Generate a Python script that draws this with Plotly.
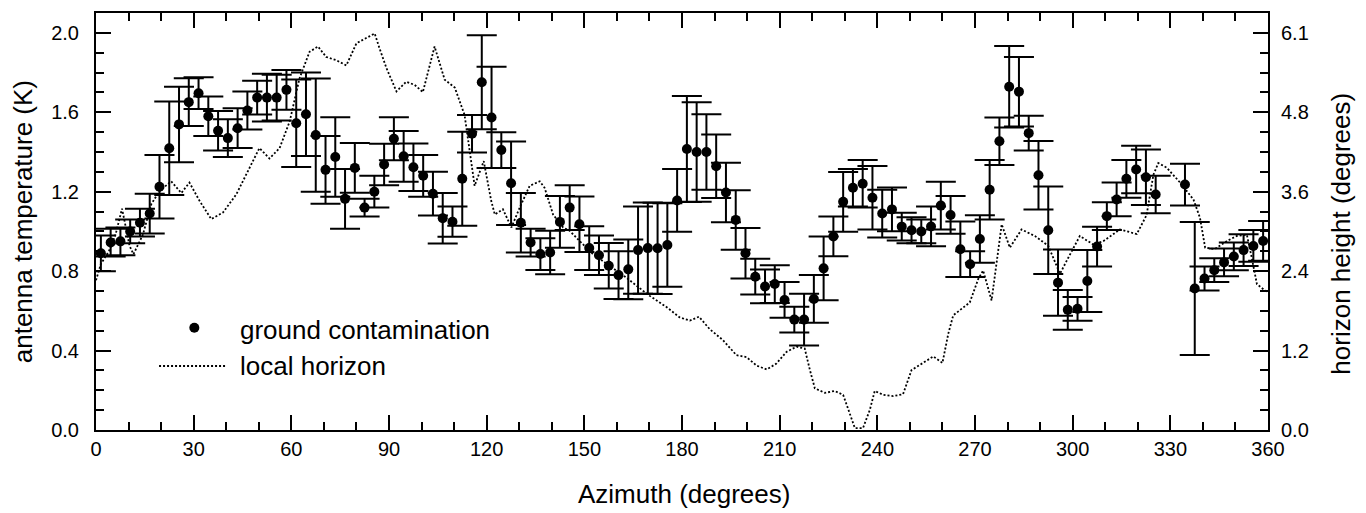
import plotly.graph_objects as go

# ---------------- data ----------------
azimuth = [1.5, 4.5, 7.5, 10.5, 13.5, 16.5, 19.5, 22.5, 25.5, 28.5,
           31.5, 34.5, 37.5, 40.5, 43.5, 46.5, 49.5, 52.5, 55.5, 58.5,
           61.5, 64.5, 67.5, 70.5, 73.5, 76.5, 79.5, 82.5, 85.5, 88.5,
           91.5, 94.5, 97.5, 100.5, 103.5, 106.5, 109.5, 112.5, 115.5, 118.5,
           121.5, 124.5, 127.5, 130.5, 133.5, 136.5, 139.5, 142.5, 145.5, 148.5,
           151.5, 154.5, 157.5, 160.5, 163.5, 166.5, 169.5, 172.5, 175.5, 178.5,
           181.5, 184.5, 187.5, 190.5, 193.5, 196.5, 199.5, 202.5, 205.5, 208.5,
           211.5, 214.5, 217.5, 220.5, 223.5, 226.5, 229.5, 232.5, 235.5, 238.5,
           241.5, 244.5, 247.5, 250.5, 253.5, 256.5, 259.5, 262.5, 265.5, 268.5,
           271.5, 274.5, 277.5, 280.5, 283.5, 286.5, 289.5, 292.5, 295.5, 298.5,
           301.5, 304.5, 307.5, 310.5, 313.5, 316.5, 319.5, 322.5, 325.5, 328.5,
           331.5, 334.5, 337.5, 340.5, 343.5, 346.5, 349.5, 352.5, 355.5, 358.5]

antenna_temp = [0.89, 0.944, 0.95, 1.00, 1.044, 1.09, 1.225, 1.419, 1.539, 1.651,
                1.696, 1.58, 1.507, 1.47, 1.52, 1.609, 1.674, 1.674, 1.674, 1.713,
                1.545, 1.59, 1.485, 1.31, 1.375, 1.164, 1.32, 1.12, 1.20, 1.337,
                1.467, 1.378, 1.323, 1.28, 1.19, 1.066, 1.049, 1.265, 1.492, 1.751,
                1.574, 1.41, 1.243, 1.044, 0.944, 0.886, 0.894, 1.048, 1.12, 1.036,
                0.916, 0.88, 0.827, 0.78, 0.809, 0.906, 0.916, 0.915, 0.932, 1.156,
                1.415, 1.40, 1.40, 1.328, 1.196, 1.058, 0.89, 0.772, 0.723, 0.735,
                0.655, 0.556, 0.556, 0.66, 0.814, 0.975, 1.149, 1.22, 1.24, 1.17,
                1.09, 1.111, 1.024, 1.006, 1.0, 1.025, 1.13, 1.083, 0.91, 0.835,
                0.962, 1.21, 1.454, 1.729, 1.704, 1.495, 1.283, 1.006, 0.742, 0.605,
                0.61, 0.75, 0.924, 1.077, 1.161, 1.265, 1.312, 1.273, 1.186, None,
                None, 1.236, 0.713, 0.763, 0.805, 0.844, 0.874, 0.906, 0.927, 0.952]

antenna_err = [0.09, 0.07, 0.07, 0.06, 0.07, 0.10, 0.16, 0.235, 0.19, 0.12,
               0.08, 0.10, 0.10, 0.095, 0.10, 0.096, 0.085, 0.12, 0.115, 0.10,
               0.22, 0.21, 0.285, 0.17, 0.20, 0.15, 0.125, 0.045, 0.08, 0.105,
               0.108, 0.128, 0.12, 0.105, 0.11, 0.127, 0.076, 0.237, 0.094, 0.237,
               0.255, 0.09, 0.21, 0.15, 0.07, 0.08, 0.11, 0.13, 0.113, 0.14,
               0.11, 0.10, 0.115, 0.12, 0.15, 0.22, 0.23, 0.23, 0.21, 0.158,
               0.267, 0.25, 0.19, 0.16, 0.15, 0.15, 0.127, 0.09, 0.085, 0.095,
               0.09, 0.065, 0.13, 0.12, 0.16, 0.10, 0.15, 0.095, 0.12, 0.16,
               0.12, 0.11, 0.07, 0.065, 0.06, 0.10, 0.12, 0.095, 0.14, 0.065,
               0.12, 0.15, 0.12, 0.205, 0.175, 0.088, 0.173, 0.22, 0.167, 0.10,
               0.06, 0.156, 0.10, 0.07, 0.085, 0.095, 0.12, 0.14, 0.095, None,
               None, 0.105, 0.335, 0.06, 0.06, 0.07, 0.07, 0.08, 0.08, 0.10]

horizon_az = [0, 1.5, 4, 6, 8, 10.3, 11.5, 14.4, 17, 19.5,
              23.1, 26.2, 28.7, 31.8, 35.4, 39, 43.1, 46.6, 50.2, 53.3,
              56.4, 59.5, 62.5, 65.6, 68.2, 70.7, 73.8, 76.9, 80, 83,
              85.6, 87.1, 89.2, 92.3, 95.3, 97.9, 100.4, 104, 107.1, 110.2,
              113.2, 114.8, 116.3, 119.1, 121.4, 122.5, 125, 127.6, 130.1, 133.2,
              136.3, 137.8, 140.4, 143.5, 145.5, 148.6, 152.7, 157.8, 162.9, 168,
              170.1, 175.2, 179.3, 182.4, 185.2, 188.5, 192.6, 196.7, 199.8, 202.9,
              206, 209, 212.1, 215.2, 217.7, 219.3, 220.8, 223.9, 226.9, 229.5,
              231.6, 233.1, 235.6, 237.7, 239.2, 241.8, 244.9, 247.9, 250.5, 254.1,
              257.2, 260, 261.8, 263.3, 268.4, 271, 272.5, 275.1, 276.6, 278.2,
              280.7, 284.3, 288.4, 292.5, 294, 296.1, 298.7, 302.2, 306.3, 309.4,
              314.5, 319.7, 322.7, 324.8, 326.3, 328.9, 333, 337.1, 339.1, 340.7,
              343.7, 347.3, 350.4, 353.5, 355, 356.6, 359.1, 360]

horizon_height = [2.30, 2.55, 2.75, 3.00, 3.40, 2.83, 2.70, 3.00, 3.47, 3.67,
                  3.82, 3.64, 3.80, 3.52, 3.24, 3.34, 3.62, 3.97, 4.33, 4.17,
                  4.33, 4.74, 5.40, 5.81, 5.89, 5.73, 5.68, 5.60, 5.94, 6.02,
                  6.09, 5.86, 5.56, 5.20, 5.35, 5.30, 5.19, 5.89, 5.38, 5.26,
                  4.84, 4.28, 3.75, 4.13, 3.52, 3.31, 3.39, 3.11, 3.41, 3.75,
                  3.82, 3.72, 3.31, 3.11, 3.06, 2.90, 2.70, 2.52, 2.34, 2.14,
                  2.06, 1.89, 1.73, 1.68, 1.74, 1.55, 1.38, 1.15, 1.12, 0.99,
                  0.93, 1.02, 1.20, 1.28, 1.25, 0.92, 0.64, 0.57, 0.60, 0.54,
                  0.25, 0.03, 0.03, 0.31, 0.60, 0.54, 0.52, 0.55, 0.92, 1.04,
                  1.13, 1.03, 1.48, 1.76, 1.96, 2.32, 2.45, 1.99, 2.60, 3.16,
                  2.80, 3.08, 2.98, 2.83, 2.65, 2.40, 2.65, 2.98, 2.85, 2.90,
                  3.08, 3.01, 3.30, 3.92, 4.10, 4.03, 3.80, 3.54, 3.26, 2.80,
                  2.78, 2.90, 2.98, 3.00, 2.65, 2.24, 2.14, 2.12]

x_ticks = [0, 30, 60, 90, 120, 150, 180, 210, 240, 270, 300, 330, 360]
y_ticks = [0.0, 0.4, 0.8, 1.2, 1.6, 2.0]
y2_tickvals = [0.0, 1.22, 2.44, 3.66, 4.88, 6.1]
y2_ticktext = ["0.0", "1.2", "2.4", "3.6", "4.8", "6.1"]

FONT = "Liberation Sans, Arial, Helvetica, sans-serif"

fig = go.Figure()

fig.add_trace(go.Scatter(
    x=azimuth, y=antenna_temp, mode="markers", name="ground contamination",
    marker=dict(color="black", size=10),
    error_y=dict(type="data", array=antenna_err, symmetric=True,
                 color="black", thickness=2, width=15),
    showlegend=False,
))

fig.add_trace(go.Scatter(
    x=horizon_az, y=horizon_height, mode="lines", name="local horizon",
    yaxis="y2", line=dict(color="black", width=1.8, dash="2px,2px"),
    showlegend=False,
))

axis_common = dict(
    showline=True, linecolor="black", linewidth=2, mirror="ticks",
    ticks="inside", tickcolor="black", tickwidth=2,
    showgrid=False, zeroline=False,
    tickfont=dict(family=FONT, size=20, color="black"),
)

# the page body has an 8px default margin, so the figure is sized to fit
fig.update_layout(
    width=1358, height=505,
    margin=dict(l=88, r=98, t=3, b=83),
    paper_bgcolor="white", plot_bgcolor="white",
    font=dict(family=FONT, color="black"),
    xaxis=dict(range=[0, 360], tickvals=x_ticks, ticklen=15,
               minor=dict(dtick=10, tick0=0, ticklen=8, tickwidth=2,
                          ticks="inside", tickcolor="black"),
               ticklabelstandoff=0, **axis_common),
    yaxis=dict(range=[0, 2.1], tickvals=y_ticks, tickformat=".1f", ticklen=15,
               minor=dict(dtick=0.1, tick0=0, ticklen=8, tickwidth=2,
                          ticks="inside", tickcolor="black"),
               ticklabelstandoff=11, **axis_common),
    yaxis2=dict(overlaying="y", side="right", range=[0, 6.1 * 2.1 / 2.0],
                tickvals=y2_tickvals, ticktext=y2_ticktext, ticks="",
                showline=False, showgrid=False, zeroline=False,
                ticklabelstandoff=12,
                tickfont=dict(family=FONT, size=20, color="black")),
    showlegend=False,
)

# axis titles
fig.add_annotation(text="Azimuth (degrees)", xref="paper", yref="paper",
                   x=0.502, y=-0.153, xanchor="center", yanchor="middle",
                   showarrow=False, font=dict(family=FONT, size=26, color="black"))
fig.add_annotation(text="antenna temperature (K)", xref="paper", yref="paper",
                   x=-0.0625, y=0.50, xanchor="center", yanchor="middle", textangle=-90,
                   showarrow=False, font=dict(family=FONT, size=26, color="black"))
fig.add_annotation(text="horizon height (degrees)", xref="paper", yref="paper",
                   x=1.062, y=0.47, xanchor="center", yanchor="middle", textangle=-90,
                   showarrow=False, font=dict(family=FONT, size=26, color="black"))

# legend (drawn manually to match the reference layout)
fig.add_shape(type="circle", xref="paper", yref="paper",
              xsizemode="pixel", ysizemode="pixel",
              xanchor=0.0839, yanchor=0.245, x0=-5, x1=5, y0=-5, y1=5,
              fillcolor="black", line=dict(color="black", width=0))
fig.add_shape(type="line", xref="paper", yref="paper",
              x0=0.0538, x1=0.1115, y0=0.1535, y1=0.1535,
              line=dict(color="black", width=1.8, dash="2px,2px"))
fig.add_annotation(text="ground contamination", xref="paper", yref="paper",
                   x=0.1209, y=0.2387, xanchor="left", yanchor="middle",
                   showarrow=False, font=dict(family=FONT, size=26, color="black"))
fig.add_annotation(text="local horizon", xref="paper", yref="paper",
                   x=0.1209, y=0.153, xanchor="left", yanchor="middle",
                   showarrow=False, font=dict(family=FONT, size=26, color="black"))

fig.write_html("out.html")
